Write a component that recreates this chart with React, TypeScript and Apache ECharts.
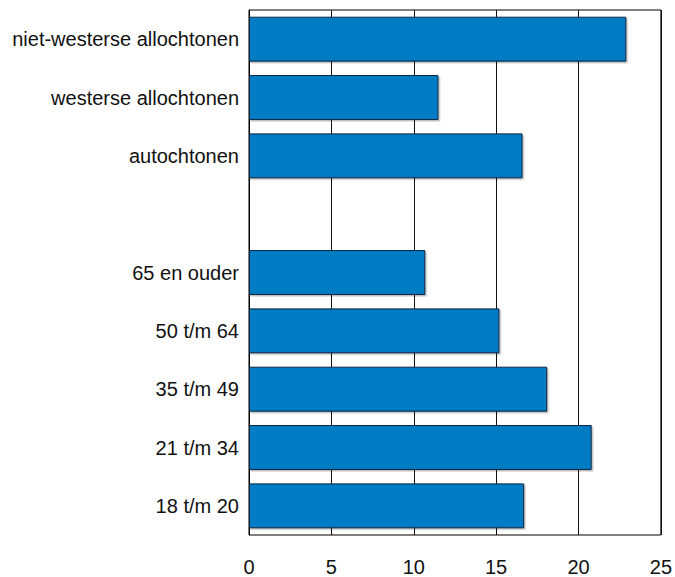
import React, { useEffect, useRef } from "react";
import * as echarts from "echarts";

const categories = [
  "niet-westerse allochtonen",
  "westerse allochtonen",
  "autochtonen",
  "",
  "65 en ouder",
  "50 t/m 64",
  "35 t/m 49",
  "21 t/m 34",
  "18 t/m 20",
];
const values: (number | null)[] = [22.9, 11.5, 16.6, null, 10.7, 15.2, 18.1, 20.8, 16.7];
const xMin = 0;
const xMax = 25;
const xInterval = 5;

export default function App() {
  const ref = useRef<HTMLDivElement>(null);
  useEffect(() => {
    if (!ref.current) return;
    const chart = echarts.init(ref.current, undefined, { renderer: "svg" });
    const font = "'Liberation Sans', Arial, Helvetica, sans-serif";
    chart.setOption({
      animation: false,
      grid: {
        left: 249,
        right: 13,
        top: 10,
        bottom: 41,
        show: true,
        borderColor: "#000",
        borderWidth: 1,
        backgroundColor: "transparent",
      },
      xAxis: {
        type: "value",
        min: xMin,
        max: xMax,
        interval: xInterval,
        axisLine: { show: false },
        axisTick: { show: false },
        splitLine: { show: true, lineStyle: { color: "#111", width: 1 } },
        axisLabel: {
          color: "#111",
          fontSize: 20,
          fontFamily: font,
          margin: 22,
        },
      },
      yAxis: {
        type: "category",
        data: categories,
        inverse: true,
        axisLine: { show: true, lineStyle: { color: "#000", width: 1 } },
        axisTick: { show: false },
        splitLine: { show: false },
        axisLabel: {
          color: "#111",
          fontSize: 20,
          fontFamily: font,
          margin: 10,
        },
      },
      series: [
        {
          type: "bar",
          data: values,
          barCategoryGap: "23%",
          itemStyle: {
            color: "#047BC5",
            borderColor: "#0b2540",
            borderWidth: 1,
            shadowColor: "rgba(0,0,0,0.25)",
            shadowBlur: 1,
            shadowOffsetX: 1.5,
            shadowOffsetY: 1.5,
          },
        },
      ],
    });
    return () => chart.dispose();
  }, []);
  return (
    <div
      ref={ref}
      style={{ position: "fixed", left: 0, top: 0, width: 675, height: 577, background: "#fff" }}
    />
  );
}
